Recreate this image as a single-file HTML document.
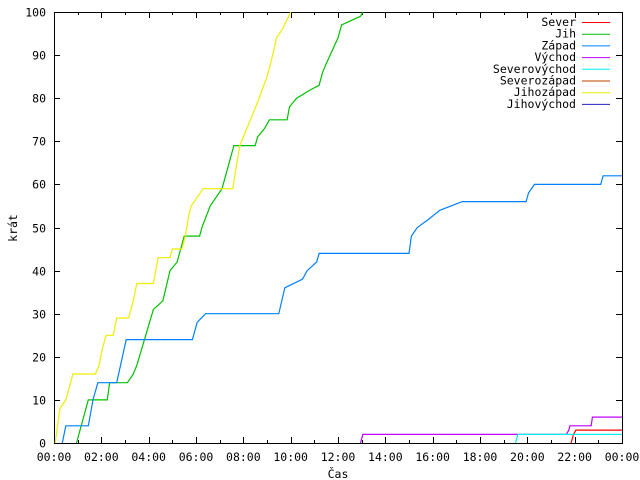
<!DOCTYPE html>
<html><head><meta charset="utf-8"><style>
body{margin:0;background:#fff}
svg{display:block}
text{font-family:"DejaVu Sans Mono","Liberation Mono",monospace;font-size:11.5px;fill:#000}
</style></head><body>
<svg id="chart" width="640" height="480" xmlns="http://www.w3.org/2000/svg">
<g id="axes"></g>
<g id="series"></g>
<g id="legend"></g>
<text x="338" y="478" text-anchor="middle">Čas</text>
<text x="17" y="228" text-anchor="middle" transform="rotate(-90 17 228)">krát</text>
</svg>
<script>
const xTickLabels=["00:00","02:00","04:00","06:00","08:00","10:00","12:00","14:00","16:00","18:00","20:00","22:00","00:00"];
const yTicks=[0,10,20,30,40,50,60,70,80,90,100];
const seriesNames=["Sever","Jih","Západ","Východ","Severovýchod","Severozápad","Jihozápad","Jihovýchod"];
const seriesColors=["#ff0000","#00c000","#0080ff","#c000ff","#00eeee","#c04000","#eeee00","#2020c0"];
const severT=[21.85,21.95,22.05,24];const severV=[0,2,3,3];
const jihT=[0.95,1.45,2.25,2.35,3.1,3.35,3.5,4.2,4.6,4.9,5.2,5.5,6.15,6.25,6.6,7.1,7.6,8.5,8.6,8.9,9.1,9.85,9.95,10.25,10.85,11.2,11.35,11.5,12.0,12.15,12.55,12.95,13.05];
const jihV=[0,10,10,14,14,16,18,31,33,40,42,48,48,50,55,59,69,69,71,73,75,75,78,80,82,83,86,88,94,97,98,99,100];
const zapadT=[0.35,0.5,1.45,1.65,1.85,2.65,3.05,5.85,6.05,6.4,9.5,9.75,10.5,10.7,11.1,11.2,15.0,15.1,15.35,15.85,16.3,17.25,19.95,20.05,20.3,23.1,23.2,24];
const zapadV=[0,4,4,10,14,14,24,24,28,30,30,36,38,40,42,44,44,48,50,52,54,56,56,58,60,60,62,62];
const vychodT=[12.95,13.05,21.65,21.75,21.8,22.7,22.75,24];const vychodV=[0,2,2,3,4,4,6,6];
const svT=[19.5,19.6,24];const svV=[0,2,2];
const szT=[];const szV=[];
const jzT=[0.05,0.25,0.5,0.65,0.8,1.75,1.9,2.05,2.2,2.5,2.65,3.15,3.35,3.5,4.2,4.4,4.9,5.0,5.4,5.55,5.7,5.8,6.05,6.3,7.55,7.7,7.85,8.3,8.6,9.0,9.15,9.4,9.65,10.0];
const jzV=[0,8,10,13,16,16,18,22,25,25,29,29,33,37,37,43,43,45,45,48,53,55,57,59,59,64,69,75,79,85,88,94,96,100];
const allT=[severT,jihT,zapadT,vychodT,svT,szT,jzT,[]];
const allV=[severV,jihV,zapadV,vychodV,svV,szV,jzV,[]];

const X0=54,X1=622,Y0=443,Y1=12;
const xs=h=>X0+h/24*(X1-X0);
const ys=v=>Y0-v/100*(Y0-Y1);
const NS="http://www.w3.org/2000/svg";
function mk(tag,attrs,parent){const e=document.createElementNS(NS,tag);for(const k in attrs)e.setAttribute(k,attrs[k]);parent.appendChild(e);return e;}
const axes=document.getElementById('axes');
yTicks.forEach(v=>{
 const y=Math.round(ys(v))+0.5;
 const t1=mk('line',{x1:X0,x2:X0+6,y1:y,y2:y,stroke:'#000'},axes);
 
 
 const t2=mk('line',{x1:X1-6,x2:X1,y1:y,y2:y,stroke:'#000'},axes);
 
 
 const tx=mk('text',{x:46,y:y+4,'text-anchor':'end'},axes);tx.textContent=v;
 
 
});
for(let h=0;h<=24;h++){
 const x=Math.round(xs(h))+0.5;const L=h%2===0?6:3;
 const b=mk('line',{x1:x,x2:x,y1:Y0,y2:Y0-L,stroke:'#000'},axes);
 
 
 const t=mk('line',{x1:x,x2:x,y1:Y1,y2:Y1+L,stroke:'#000'},axes);
 
 
}
xTickLabels.forEach((s,i)=>{
 const tx=mk('text',{x:xs(i*2),y:461,'text-anchor':'middle'},axes);tx.textContent=s;
 
 
});
const ser=document.getElementById('series');
allT.forEach((T,i)=>{
 if(!T.length)return;
 const pts=T.map((t,j)=>xs(t).toFixed(1)+','+ys(allV[i][j]).toFixed(1)).join(' ');
 const p=mk('polyline',{points:pts,fill:'none',stroke:seriesColors[i],'stroke-width':1.2},ser);
 
 
});
const frame=mk('rect',{x:X0+0.5,y:Y1+0.5,width:X1-X0,height:Y0-Y1,fill:'none',stroke:'#000'},axes);


const lg=document.getElementById('legend');
seriesNames.forEach((n,i)=>{
 const y=22+i*11.7;
 const tx=mk('text',{x:576,y:y+4,'text-anchor':'end'},lg);tx.textContent=n;
 
 
 const l=mk('line',{x1:582,x2:610,y1:y+0.5,y2:y+0.5,stroke:seriesColors[i]},lg);
 
 
});
</script>
</body></html>
